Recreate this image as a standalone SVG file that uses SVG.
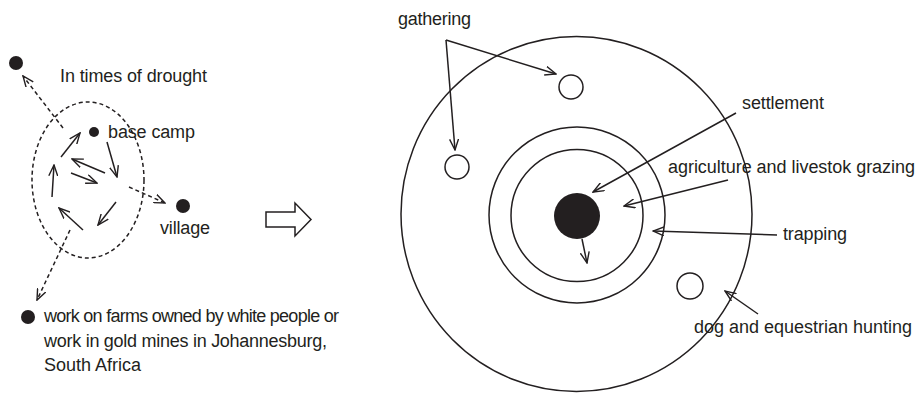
<svg xmlns="http://www.w3.org/2000/svg" width="920" height="393" viewBox="0 0 920 393">
<defs>
<style>
text{font-family:"Liberation Sans",Arial,sans-serif;font-size:18px;fill:#231f20}
.ln{stroke:#231f20;stroke-width:1.5;fill:none}
.dash{stroke:#231f20;stroke-width:1.5;fill:none;stroke-dasharray:4 3}
.ring{stroke:#231f20;stroke-width:1.5;fill:none}
.dot{fill:#231f20}
</style>
<marker id="ah" viewBox="0 0 12 10" refX="11" refY="5" markerWidth="12" markerHeight="10" markerUnits="userSpaceOnUse" orient="auto">
<path d="M0,0.5 L11,5 L0,9.5" fill="none" stroke="#231f20" stroke-width="1.4"/>
</marker>
</defs>
<rect width="920" height="393" fill="#fff"/>

<g id="left-diagram">
<g id="range"><ellipse cx="88" cy="180" rx="56" ry="78" class="dash"/></g>
<g id="drought"><circle cx="16" cy="63" r="7" class="dot"/><text x="60" y="82" textLength="147">In times of drought</text></g>
<g id="base-camp"><circle cx="94" cy="132" r="5" class="dot"/><text x="108" y="138" textLength="87">base camp</text></g>
<g id="village"><circle cx="183" cy="206" r="7" class="dot"/><text x="160" y="234" textLength="50">village</text></g>
<g id="farms"><circle cx="28" cy="317" r="7" class="dot"/>
<text x="44" y="322" font-size="16.3" textLength="295">work on farms owned by white people or</text>
<text x="44" y="347" font-size="16.8" textLength="283">work in gold mines in Johannesburg,</text>
<text x="44" y="371" font-size="17.5" textLength="97">South Africa</text></g>
</g>

<g id="block-arrow"><path d="M266,212 L295,212 L295,203 L311,219.5 L295,236 L295,227 L266,227 Z" class="ln" stroke-linejoin="miter"/></g>

<g id="right-diagram">
<g id="hunting-zone"><ellipse cx="576.5" cy="214" rx="175.5" ry="177.5" class="ring"/></g>
<g id="trapping-zone"><circle cx="577" cy="215" r="88" class="ring"/></g>
<g id="agri-zone"><circle cx="577" cy="215.5" r="66" class="ring"/></g>
<g id="settlement"><circle cx="577" cy="216" r="23" class="dot"/></g>
<g id="gather1"><circle cx="571" cy="87" r="12" class="ring"/></g>
<g id="gather2"><circle cx="457" cy="167" r="12" class="ring"/></g>
<g id="gather3"><circle cx="690" cy="286" r="13" class="ring"/></g>
<text x="398" y="25" textLength="73">gathering</text>
<text x="742" y="109" textLength="82">settlement</text>
<text x="668" y="173" textLength="247">agriculture and livestok grazing</text>
<text x="783" y="240" textLength="64">trapping</text>
<text x="694" y="333" textLength="218">dog and equestrian hunting</text>
</g>

<g id="connectors">
<line x1="63" y1="128" x2="23" y2="76" class="dash" marker-end="url(#ah)"/>
<line x1="129" y1="187" x2="165" y2="203" class="dash" marker-end="url(#ah)"/>
<line x1="70" y1="230" x2="37" y2="300" class="dash" marker-end="url(#ah)"/>
<line x1="61" y1="157" x2="80" y2="133" class="ln" marker-end="url(#ah)"/>
<line x1="107" y1="142" x2="117" y2="177" class="ln" marker-end="url(#ah)"/>
<line x1="105" y1="173" x2="72" y2="159" class="ln" marker-end="url(#ah)"/>
<line x1="71" y1="173" x2="97" y2="183" class="ln" marker-end="url(#ah)"/>
<line x1="52" y1="197" x2="54" y2="165" class="ln" marker-end="url(#ah)"/>
<line x1="116" y1="202" x2="98" y2="225" class="ln" marker-end="url(#ah)"/>
<line x1="83" y1="230" x2="59" y2="208" class="ln" marker-end="url(#ah)"/>
<path d="M446,40 L556,74" class="ln" marker-end="url(#ah)"/>
<path d="M446,40 L455,150" class="ln" marker-end="url(#ah)"/>
<line x1="736" y1="113" x2="593" y2="192" class="ln" marker-end="url(#ah)"/>
<line x1="728" y1="180" x2="624" y2="206" class="ln" marker-end="url(#ah)"/>
<line x1="777" y1="235" x2="653" y2="231" class="ln" marker-end="url(#ah)"/>
<line x1="582" y1="239" x2="587" y2="263" class="ln" marker-end="url(#ah)"/>
<line x1="758" y1="314" x2="725" y2="291" class="ln" marker-end="url(#ah)"/>
</g>
</svg>
